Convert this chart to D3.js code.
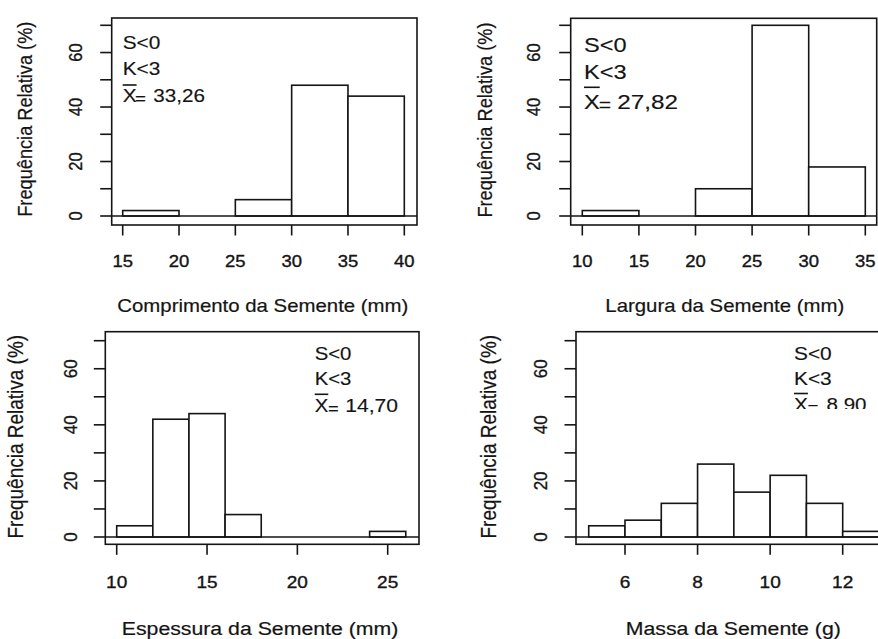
<!DOCTYPE html>
<html>
<head>
<meta charset="utf-8">
<script src="https://cdn.jsdelivr.net/npm/d3@7"></script>
<style>
  html, body { margin: 0; padding: 0; background: #fff; }
  svg { display: block; }
</style>
</head>
<body>
<script>
// ---------------- DATA ----------------
const compBreaks = [15, 20, 25, 30, 35, 40];
const compFreq   = [2, 0, 6, 48, 44];
const largBreaks = [10, 15, 20, 25, 30, 35];
const largFreq   = [2, 0, 10, 70, 18];
const espBreaks  = [10, 12, 14, 16, 18, 20, 22, 24, 26];
const espFreq    = [4, 42, 44, 8, 0, 0, 0, 2];
const massBreaks = [5, 6, 7, 8, 9, 10, 11, 12, 13];
const massFreq   = [4, 6, 12, 26, 16, 22, 12, 2];

const compTicks = [15, 20, 25, 30, 35, 40];
const largTicks = [10, 15, 20, 25, 30, 35];
const espTicks  = [10, 15, 20, 25];
const massTicks = [6, 8, 10, 12];

const yTicks  = [0, 10, 20, 30, 40, 50, 60, 70];
const yLabels = [0, 20, 40, 60];

const xTitles = ["Comprimento da Semente (mm)", "Largura da Semente (mm)",
                 "Espessura da Semente (mm)", "Massa da Semente (g)"];
const yTitle = "Frequência Relativa (%)";
const statLines = ["S<0", "K<3"];
const meanSymbol = "X";
const meanValues = ["33,26", "27,82", "14,70", "8,90"];

// ---------------- LAYOUT ----------------
const W = 878, H = 639;
const FONT = "'Liberation Sans', Arial, Helvetica, sans-serif";
const INK = "#141414";

const layout = [
  { box: [111.7, 18, 417, 225], xr: [122.7, 404.3], yr: [216, 25.3],
    xtickBase: 266.7, xtitleBase: 311.7, xtitleCx: 262.8,
    ylabBase: 81.7, ytitleBase: 31.7, ytitleCy: 119.2, tickFs: 16.5, titleFs: 18.2,
    ann: { left: 122.7, base: [49.3, 75, 101.7], over: 85, fs: 17.8, sx: 1.17, eq: 12.3, val: 30.6, valLen: 51.7 } },
  { box: [570.7, 18.3, 876.7, 225], xr: [582.3, 865.3], yr: [216, 25.3],
    xtickBase: 266.7, xtitleBase: 311.7, xtitleCx: 724.8,
    ylabBase: 540, ytitleBase: 491.7, ytitleCy: 120, tickFs: 16.5, titleFs: 18.2,
    ann: { left: 584, base: [52.3, 79.3, 108.5], over: 87.3, fs: 20, sx: 1.18, eq: 14.7, val: 33.3, valLen: 60.7 } },
  { box: [105.3, 331.7, 419, 544.3], xr: [116.7, 387.7], yr: [537, 340.7],
    xtickBase: 588.3, xtitleBase: 635, xtitleCx: 260,
    ylabBase: 76.7, ytitleBase: 23.3, ytitleCy: 436.7, tickFs: 17, titleFs: 19,
    ann: { left: 314.7, base: [360, 385, 411.7], over: 394.3, fs: 18, sx: 1.13, eq: 13.3, val: 30.6, valLen: 52.7 } },
  { box: [576, 331.7, 891, 544.3], xr: [625, 842.7], yr: [537, 340.7],
    xtickBase: 588.3, xtitleBase: 635, xtitleCx: 733.3,
    ylabBase: 546.7, ytitleBase: 496, ytitleCy: 436.7, tickFs: 17, titleFs: 19,
    ann: { left: 794, base: [360, 385, 411], over: 393.5, fs: 18, sx: 1.16, eq: 13.5, val: 32.5, valLen: 40, clip: 409 } }
];

const panels = [
  { breaks: compBreaks, freq: compFreq, ticks: compTicks },
  { breaks: largBreaks, freq: largFreq, ticks: largTicks },
  { breaks: espBreaks,  freq: espFreq,  ticks: espTicks },
  { breaks: massBreaks, freq: massFreq, ticks: massTicks }
];

const SX = 1.12; // horizontal glyph stretch of the original raster

const svg = d3.select("body").append("svg")
  .attr("width", W).attr("height", H)
  .attr("viewBox", `0 0 ${W} ${H}`);
svg.append("rect").attr("width", W).attr("height", H).attr("fill", "#fff");
const defs = svg.append("defs");

function text(g, x, y, str, opts) {
  const o = Object.assign({ size: 16, sx: SX, anchor: "start", rotate: false, weight: 0.2 }, opts || {});
  const t = g.append("text")
    .attr("transform", `translate(${x},${y}) scale(${o.sx},1)` + (o.rotate ? " rotate(-90)" : ""))
    .attr("text-anchor", o.anchor)
    .attr("font-family", FONT)
    .attr("font-size", o.size)
    .attr("fill", INK)
    .attr("stroke", INK)
    .attr("stroke-width", o.weight)
    .text(str);
  if (o.len) t.attr("textLength", o.len / o.sx).attr("lengthAdjust", "spacingAndGlyphs");
  return t;
}

panels.forEach((p, i) => {
  const L = layout[i];
  const [bl, bt, br, bb] = L.box;
  const g = svg.append("g");

  const x = d3.scaleLinear()
    .domain([p.ticks[0], p.ticks[p.ticks.length - 1]])
    .range(L.xr);
  const y = d3.scaleLinear().domain([0, 70]).range(L.yr);

  const bins = p.freq.map((f, k) => ({ x0: p.breaks[k], x1: p.breaks[k + 1], f }));

  // bars
  g.selectAll("rect.bar").data(bins.filter(d => d.f > 0)).enter().append("rect")
    .attr("class", "bar")
    .attr("x", d => x(d.x0))
    .attr("width", d => x(d.x1) - x(d.x0))
    .attr("y", d => y(d.f))
    .attr("height", d => y(0) - y(d.f))
    .attr("fill", "#fff")
    .attr("stroke", INK)
    .attr("stroke-width", 1.6);

  // zero line
  g.append("line")
    .attr("x1", bl).attr("x2", br)
    .attr("y1", y(0)).attr("y2", y(0))
    .attr("stroke", INK).attr("stroke-width", 1.6);

  // box
  g.append("rect")
    .attr("x", bl).attr("y", bt)
    .attr("width", br - bl).attr("height", bb - bt)
    .attr("fill", "none").attr("stroke", INK).attr("stroke-width", 1.6);

  // y axis ticks
  g.selectAll("line.yt").data(yTicks).enter().append("line")
    .attr("x1", bl - 11.5).attr("x2", bl)
    .attr("y1", d => y(d)).attr("y2", d => y(d))
    .attr("stroke", INK).attr("stroke-width", 1.6);
  yLabels.forEach(v => text(g, L.ylabBase, y(v), String(v), { size: L.tickFs, anchor: "middle", rotate: true, weight: 0.3 }));

  // x axis ticks
  g.selectAll("line.xt").data(p.ticks).enter().append("line")
    .attr("x1", d => x(d)).attr("x2", d => x(d))
    .attr("y1", bb).attr("y2", bb + 10.5)
    .attr("stroke", INK).attr("stroke-width", 1.6);
  p.ticks.forEach(v => text(g, x(v), L.xtickBase, String(v), { size: L.tickFs, anchor: "middle", weight: 0.35 }));

  // titles
  text(g, L.xtitleCx, L.xtitleBase, xTitles[i], { size: L.titleFs, anchor: "middle", weight: 0.2 });
  text(g, L.ytitleBase, L.ytitleCy, yTitle, { size: L.titleFs, anchor: "middle", rotate: true, weight: 0.2 });

  // annotation
  const A = L.ann;
  const ag = g.append("g");
  if (A.clip) {
    const id = "clip" + i;
    defs.append("clipPath").attr("id", id)
      .append("rect").attr("x", 0).attr("y", 0).attr("width", W).attr("height", A.clip);
    ag.attr("clip-path", `url(#${id})`);
  }
  statLines.forEach((s, k) => text(ag, A.left, A.base[k], s, { size: A.fs, sx: A.sx, weight: 0.15 }));
  text(ag, A.left, A.base[2], meanSymbol, { size: A.fs, sx: A.sx, weight: 0.15 });
  const xw = 0.667 * A.fs * A.sx;
  ag.append("line")
    .attr("x1", A.left).attr("x2", A.left + xw)
    .attr("y1", A.over).attr("y2", A.over)
    .attr("stroke", INK).attr("stroke-width", 1.6);
  text(ag, A.left + A.eq, A.base[2] + 2.3, "=", { size: A.fs * 0.9, sx: A.sx, weight: 0.15 });
  text(ag, A.left + A.val, A.base[2], meanValues[i], { size: A.fs, sx: A.sx, len: A.valLen, weight: 0.15 });
});
</script>
</body>
</html>
